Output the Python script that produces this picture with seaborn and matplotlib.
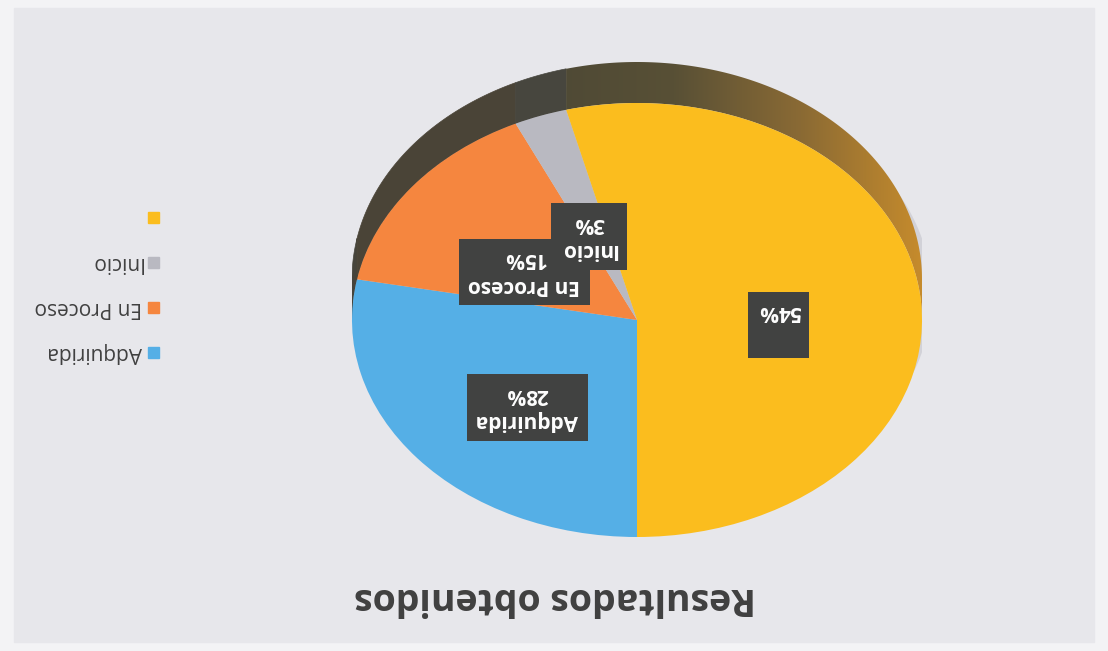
import numpy as np
import matplotlib
matplotlib.use("Agg")
import matplotlib.pyplot as plt
from matplotlib.patches import Polygon, Rectangle
from matplotlib.colors import LinearSegmentedColormap
import seaborn as sns

# ---------------- data ----------------
categories = ["Adquirida", "En Proceso", "Inicio", ""]
values = [28, 15, 3, 54]
pct_labels = ["28%", "15%", "3%", "54%"]
slice_colors = ["#55afe6", "#f5863f", "#b9b9c1", "#fbbd1e"]
side_colors = ["#46443b", "#4a4437", "#47463e", None]  # None -> gradient
title = "Resultados obtenidos"

# ---------------- style ----------------
sns.set_theme(style="white")
plt.rcParams["font.family"] = ["Open Sans", "DejaVu Sans"]
palette = sns.color_palette(slice_colors)

W, H = 1108, 651
fig = plt.figure(figsize=(W / 100, H / 100), dpi=100, facecolor="#f3f3f5")

# background axes in pixel coordinates (image orientation)
bg = fig.add_axes([0, 0, 1, 1])
bg.set_xlim(0, W)
bg.set_ylim(H, 0)
bg.axis("off")
bg.add_patch(Rectangle((14, 8), 1080, 634, color="#e7e7eb", zorder=0))

# ---------------- pie (drawn upside down as in the scan) ----------------
cx, cy = 637, 320       # ellipse centre (px)
a_px, b_px = 285, 217   # semi axes (px)
depth_px = 41
d = depth_px / b_px
ytop = 1 + d + 0.08

left = (cx - a_px) / W
width = 2 * a_px / W
bottom = (H - (cy + b_px)) / H
height = (ytop + 1) * b_px / H
ax = fig.add_axes([left, bottom, width, height])
ax.patch.set_alpha(0)

wedges, _ = ax.pie(values, colors=palette, startangle=270, counterclock=False,
                   wedgeprops=dict(linewidth=0, zorder=3))

# soft shadow
ts = np.linspace(0, 2 * np.pi, 300)
shadow = Polygon(np.column_stack([np.cos(ts) + 0.035, np.sin(ts) + d * 0.6]),
                 closed=True, fc="#cdcdd4", ec="none", alpha=0.8, zorder=1)
ax.add_patch(shadow)

cmap = LinearSegmentedColormap.from_list(
    "side", ["#4e4935", "#585036", "#8a6a34", "#c98d2c"])

for w, sc in zip(wedges, side_colors):
    lo = max(w.theta1, 0.0)
    hi = min(w.theta2, 180.0)
    if hi <= lo:
        continue
    t = np.deg2rad(np.linspace(lo, hi, 120))
    top = np.column_stack([np.cos(t), np.sin(t) + d])
    low = np.column_stack([np.cos(t[::-1]), np.sin(t[::-1])])
    if sc is not None:
        poly = Polygon(np.vstack([top, low]), closed=True, fc=sc, ec=sc,
                       lw=0.5, zorder=2)
        ax.add_patch(poly)
    else:
        poly = Polygon(np.vstack([top, low]), closed=True, fc="none",
                       ec="none", zorder=2)
        ax.add_patch(poly)
        grad = np.linspace(0, 1, 256).reshape(1, -1)
        im = ax.imshow(grad, extent=[-0.32, 1.02, -0.1, 1 + d + 0.02],
                       cmap=cmap, aspect="auto", zorder=2, origin="lower")
        im.set_clip_path(poly)

# data labels
for w, cat, pct in zip(wedges, categories, pct_labels):
    mid = np.deg2rad((w.theta1 + w.theta2) / 2)
    x = 0.5 * np.cos(mid)
    y = 0.5 * np.sin(mid) - 0.085
    ax.text(x, y, f"{cat}\n{pct}", rotation=180, ha="center", va="center",
            color="white", fontsize=15, fontweight="bold", linespacing=1.35,
            zorder=6,
            bbox=dict(boxstyle="square,pad=0.45", fc="#414241", ec="none"))

ax.set_aspect("auto")
ax.set_xlim(-1, 1)
ax.set_ylim(-1, ytop)
ax.axis("off")

# ---------------- legend (upside down) ----------------
leg_y0, leg_step = 352, -44.7
for i, (cat, col) in enumerate(zip(categories, palette)):
    y = leg_y0 + i * leg_step
    bg.add_patch(Rectangle((148, y - 5.5), 11, 11, color=col, zorder=3))
    bg.text(142, y, cat, rotation=180, ha="right", va="center",
            fontsize=15, color="#404040", zorder=3)

# ---------------- title (upside down) ----------------
bg.text(555, 598, title, rotation=180, ha="center", va="center",
        fontsize=27, fontweight="bold", color="#404040", zorder=3)

fig.savefig("out.png", dpi=100, facecolor=fig.get_facecolor())
